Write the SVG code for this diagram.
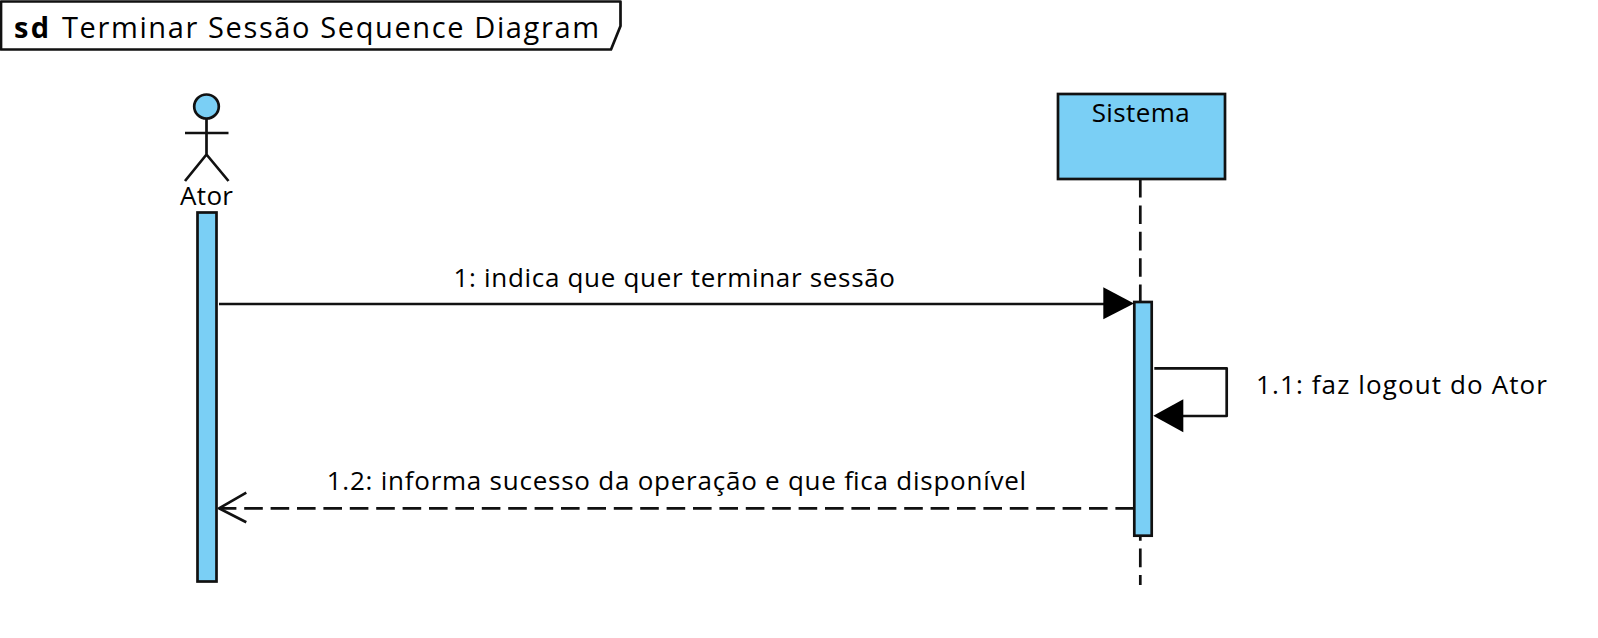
<svg xmlns="http://www.w3.org/2000/svg" width="1598" height="638" viewBox="0 0 1598 638">
<style>
text{font-family:"Open Sans","DejaVu Sans",sans-serif;font-size:26px;fill:#000}
.t{font-size:29px}
.s{fill:none;stroke:#111;stroke-width:2.7;stroke-linejoin:round}
.b{fill:#7acff5;stroke:#111;stroke-width:2.7}
.d{stroke-dasharray:18.6 7.8}
.h{fill:#000;stroke:none}
</style>
<rect width="1598" height="638" fill="#fff"/>
<g id="frame">
<path class="s" d="M1 1.5H620.5V26L611 49.5H1Z"/>
<text class="t" x="14" y="37.5" font-weight="700" textLength="35" lengthAdjust="spacing">sd</text>
<text class="t" x="62" y="37.5" textLength="537" lengthAdjust="spacing">Terminar Sessão Sequence Diagram</text>
</g>
<g id="ator">
<ellipse class="b" cx="206.5" cy="106.5" rx="12.3" ry="12"/>
<path class="s" d="M206.5 118.5V154.5M185 133H228.5M185 181L206.5 154.5L228.5 181"/>
<text x="206.5" y="205" text-anchor="middle" textLength="53" lengthAdjust="spacing">Ator</text>
<rect class="b" x="197.5" y="212.5" width="19" height="369"/>
</g>
<g id="sistema">
<path class="s d" d="M1140.3 179V585"/>
<rect class="b" x="1058" y="94" width="167" height="85"/>
<text x="1140.7" y="122" text-anchor="middle" textLength="98" lengthAdjust="spacing">Sistema</text>
<rect class="b" x="1134.3" y="302" width="17.4" height="233.7"/>
</g>
<g id="connectors">
<path class="s" d="M219 304H1104"/>
<path class="h" d="M1103.3 287.3L1134 303.5L1103.3 319.3Z"/>
<text x="453.5" y="287" textLength="441.5" lengthAdjust="spacing">1: indica que quer terminar sessão</text>
<path class="s" d="M1154.3 368.3H1226.7V416H1183"/>
<path class="h" d="M1183.3 399.3L1153.3 415.8L1183.3 432.3Z"/>
<text x="1256" y="393.5" textLength="291" lengthAdjust="spacing">1.1: faz logout do Ator</text>
<path class="s d" d="M1134 508.3H219"/>
<path class="s" d="M246.3 492.7L219 508.3L246.3 522.3"/>
<text x="326.7" y="490" textLength="699.5" lengthAdjust="spacing">1.2: informa sucesso da operação e que fica disponível</text>
</g>
</svg>
